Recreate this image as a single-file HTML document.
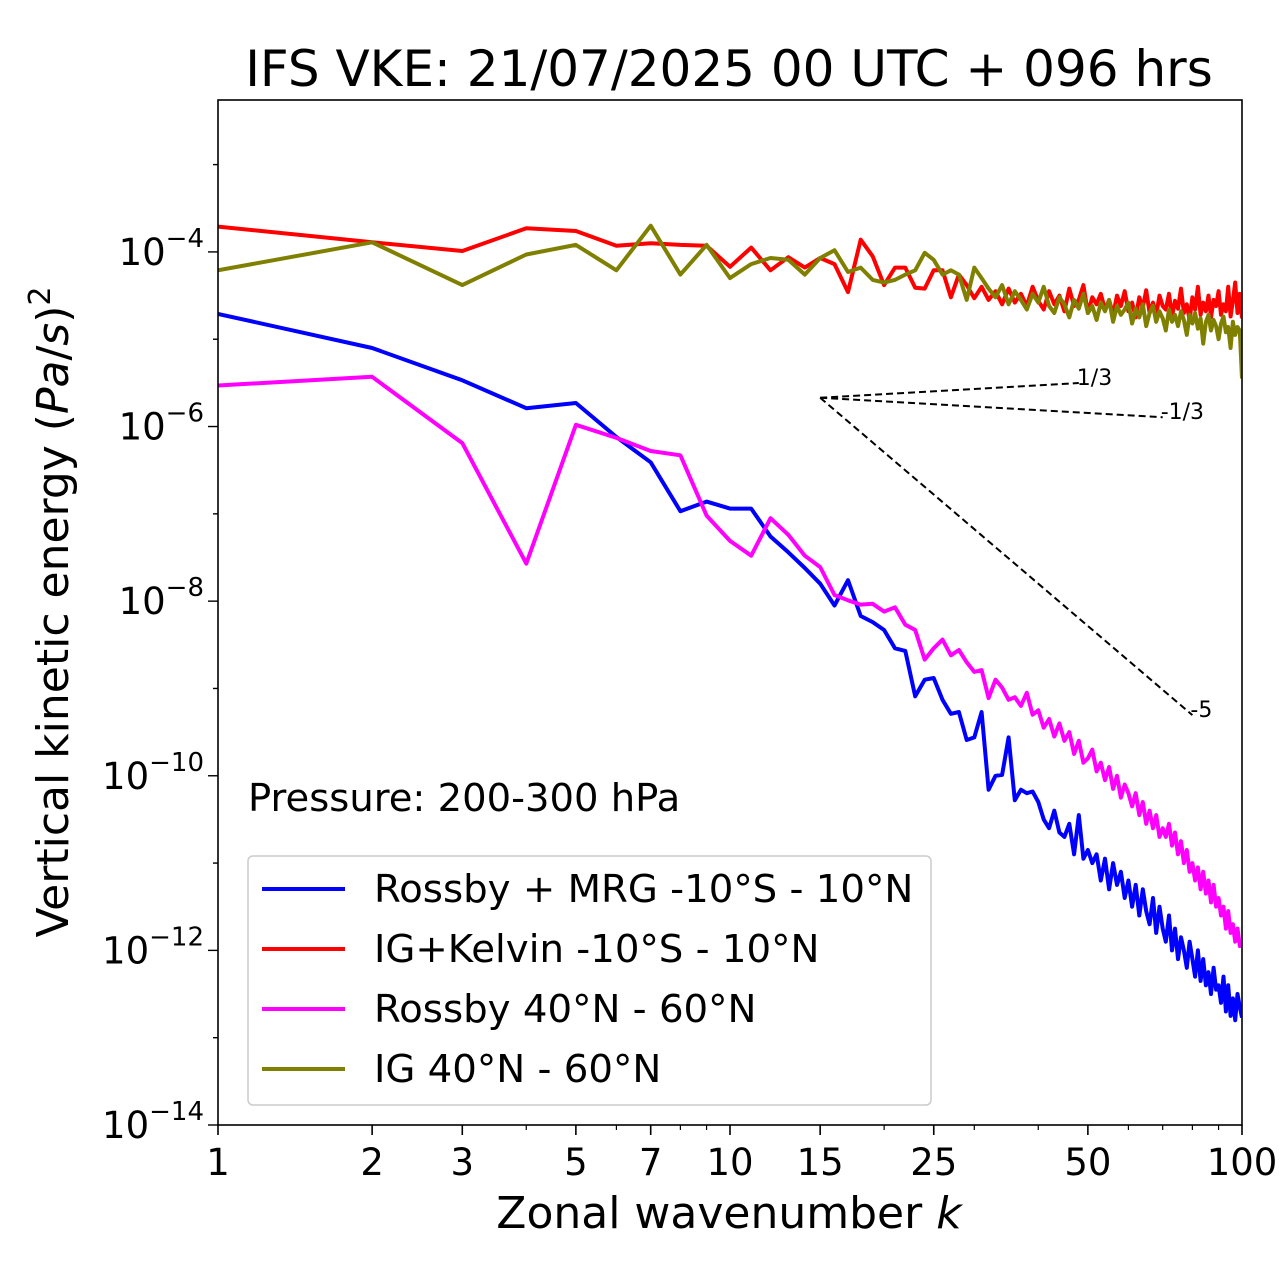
<!DOCTYPE html>
<html><head><meta charset="utf-8"><style>
body{margin:0;background:#fff;}
svg{display:block;font-family:"DejaVu Sans","Liberation Sans",sans-serif;}
</style></head><body>
<svg id="chart" width="1280" height="1288" viewBox="0 0 1280 1288" xmlns="http://www.w3.org/2000/svg">
<rect width="1280" height="1288" fill="#fff"/>
<text x="729" y="86" font-size="50" text-anchor="middle">IFS VKE: 21/07/2025 00 UTC + 096 hrs</text>
<defs><clipPath id="pc"><rect x="218" y="100" width="1024" height="1025"/></clipPath></defs>
<g id="series" clip-path="url(#pc)"></g>
<g id="guides"></g>
<g id="ticks"></g>
<rect x="218" y="100" width="1024" height="1025" fill="none" stroke="#000" stroke-width="1.6"/>
<text x="248" y="811" font-size="38.5">Pressure: 200-300 hPa</text>
<g>
<rect x="248" y="856" width="683" height="249" rx="5" fill="#fff" fill-opacity="0.8" stroke="#ccc" stroke-width="1.5"/>
<line x1="262" y1="889" x2="345" y2="889" stroke="#0000ff" stroke-width="4"/>
<text x="374" y="902" font-size="38.7">Rossby + MRG -10°S - 10°N</text>
<line x1="262" y1="949" x2="345" y2="949" stroke="#ff0000" stroke-width="4"/>
<text x="374" y="962" font-size="38.7">IG+Kelvin -10°S - 10°N</text>
<line x1="262" y1="1009" x2="345" y2="1009" stroke="#ff00ff" stroke-width="4"/>
<text x="374" y="1022" font-size="38.7">Rossby 40°N - 60°N</text>
<line x1="262" y1="1069" x2="345" y2="1069" stroke="#808000" stroke-width="4"/>
<text x="374" y="1082" font-size="38.7">IG 40°N - 60°N</text>
</g>
<text x="729" y="1228" font-size="44" text-anchor="middle">Zonal wavenumber <tspan font-style="italic">k</tspan></text>
<text transform="translate(68,612) rotate(-90)" font-size="44" text-anchor="middle">Vertical kinetic energy (<tspan font-style="italic">Pa</tspan>/<tspan font-style="italic">s</tspan>)<tspan font-size="30" dy="-18">2</tspan></text>
</svg>
<script>
// log10 of VKE for k = 1..100
const blueLog = [-4.71,-5.10,-5.47,-5.79,-5.73,-6.12,-6.41,-6.97,-6.86,-6.94,-6.94,-7.26,-7.44,-7.62,-7.80,-8.05,-7.76,-8.17,-8.24,-8.33,-8.54,-8.57,-9.09,-8.90,-8.88,-9.13,-9.29,-9.27,-9.59,-9.56,-9.27,-10.16,-10.0,-9.99,-9.56,
-10.28,-10.16,-10.2,-10.18,-10.3,-10.5,-10.6,-10.4,-10.65,-10.7,-10.55,-10.9,-10.45,-10.95,-10.85,-11.0,-10.9,-11.2,-10.95,-11.3,-11.0,-11.25,-11.1,-11.4,-11.2,-11.5,-11.25,-11.6,-11.3,-11.55,-11.7,-11.4,-11.8,-11.5,-11.75,-11.9,-11.6,-12.0,-11.75,-12.1,-11.85,-12.0,-12.2,-11.9,-12.1,-12.3,-12.0,-12.35,-12.1,-12.4,-12.25,-12.5,-12.2,-12.45,-12.4,-12.6,-12.3,-12.7,-12.4,-12.75,-12.55,-12.8,-12.5,-12.65,-12.77];
const magentaLog = [-5.53,-5.43,-6.19,-7.57,-5.98,-6.13,-6.28,-6.33,-7.02,-7.31,-7.48,-7.05,-7.24,-7.48,-7.61,-7.93,-7.99,-8.04,-8.03,-8.12,-8.07,-8.27,-8.33,-8.67,-8.54,-8.44,-8.62,-8.56,-8.70,-8.81,-8.79,-9.11,-8.90,-8.99,-9.13,
-9.1,-9.2,-9.05,-9.3,-9.25,-9.45,-9.35,-9.55,-9.4,-9.6,-9.5,-9.75,-9.6,-9.85,-9.8,-9.7,-9.95,-9.85,-10.05,-9.9,-10.15,-10.0,-10.25,-10.1,-10.2,-10.35,-10.2,-10.45,-10.3,-10.55,-10.4,-10.6,-10.45,-10.7,-10.6,-10.7,-10.55,-10.8,-10.65,-10.9,-10.75,-11.0,-10.85,-11.1,-11.0,-11.2,-11.05,-11.3,-11.1,-11.35,-11.2,-11.45,-11.25,-11.5,-11.4,-11.6,-11.5,-11.75,-11.55,-11.8,-11.7,-11.9,-11.75,-11.95,-11.94];
const redLog = [-3.71,-3.89,-3.99,-3.73,-3.76,-3.93,-3.90,-3.92,-3.93,-4.17,-3.95,-4.21,-4.06,-4.18,-4.07,-4.14,-4.46,-3.86,-4.05,-4.38,-4.18,-4.18,-4.41,-4.42,-4.21,-4.21,-4.52,-4.26,-4.38,-4.53,
-4.40,-4.55,-4.45,-4.60,-4.42,-4.58,-4.48,-4.62,-4.40,-4.56,-4.66,-4.45,-4.60,-4.50,-4.68,-4.42,-4.62,-4.55,-4.38,-4.70,-4.52,-4.60,-4.48,-4.66,-4.55,-4.72,-4.50,-4.62,-4.45,-4.68,-4.58,-4.75,-4.52,-4.64,-4.44,-4.70,-4.58,-4.72,-4.50,-4.62,-4.66,-4.48,-4.74,-4.56,-4.65,-4.42,-4.70,-4.60,-4.78,-4.52,-4.66,-4.40,-4.72,-4.58,-4.68,-4.50,-4.75,-4.55,-4.62,-4.45,-4.72,-4.60,-4.68,-4.40,-4.74,-4.56,-4.35,-4.70,-4.48,-4.76];
const oliveLog = [-4.21,-3.89,-4.38,-4.03,-3.92,-4.21,-3.70,-4.26,-3.92,-4.30,-4.14,-4.07,-4.09,-4.26,-4.07,-3.98,-4.23,-4.18,-4.32,-4.35,-4.32,-4.26,-4.21,-4.01,-4.09,-4.26,-4.21,-4.26,-4.55,-4.18,
-4.30,-4.42,-4.52,-4.38,-4.60,-4.45,-4.55,-4.66,-4.48,-4.58,-4.40,-4.62,-4.70,-4.52,-4.60,-4.75,-4.55,-4.65,-4.48,-4.70,-4.62,-4.78,-4.58,-4.68,-4.55,-4.80,-4.62,-4.72,-4.66,-4.58,-4.82,-4.65,-4.75,-4.60,-4.85,-4.70,-4.62,-4.80,-4.68,-4.76,-4.90,-4.66,-4.80,-4.72,-4.85,-4.68,-4.78,-4.95,-4.72,-4.82,-4.70,-4.88,-4.76,-5.05,-4.80,-4.72,-4.90,-4.78,-4.85,-5.00,-4.82,-4.74,-4.92,-4.86,-5.10,-4.80,-4.95,-4.86,-4.90,-5.45];
const xTickLabels = [1,2,3,5,7,10,15,25,50,100];
const xMinorTicks = [4,6,8,9,20,30,40,60,70,80,90];
const yTickExps = [-4,-6,-8,-10,-12,-14];
const slopeOrigin = [15,-5.67];
const slopes = [1/3,-1/3,-5];
const slopeEnds = [48,70,80];
const slopeLabels = ["1/3","-1/3","-5"];

const NS="http://www.w3.org/2000/svg";
const X0=218,X1=1242,Y0=100,Y1=1125;
const xs=k=>X0+(X1-X0)*Math.log10(k)/2;
const ys=e=>Y1-(Y1-Y0)*(e+14)/(11.74);
function mk(tag,attrs,parent){const el=document.createElementNS(NS,tag);for(const a in attrs)el.setAttribute(a,attrs[a]);parent.appendChild(el);return el;}
const gS=document.getElementById('series'),gT=document.getElementById('ticks'),gG=document.getElementById('guides');
const series=[[blueLog,'#0000ff','series-rossby-mrg'],[redLog,'#ff0000','series-ig-kelvin'],[magentaLog,'#ff00ff','series-rossby-midlat'],[oliveLog,'#808000','series-ig-midlat']];
series.forEach(s=>{
  const d=s[0].map((v,i)=>(i?'L':'M')+xs(i+1).toFixed(1)+','+ys(v).toFixed(1)).join('');
  const p=mk('path',{d:d,fill:'none',stroke:s[1],'stroke-width':4,'stroke-linejoin':'round'},gS);
  
  
});
slopes.forEach((s,i)=>{
  const k2=slopeEnds[i],e2=slopeOrigin[1]+s*Math.log10(k2/slopeOrigin[0]);
  const l=mk('line',{x1:xs(slopeOrigin[0]),y1:ys(slopeOrigin[1]),x2:xs(k2),y2:ys(e2),stroke:'#000','stroke-width':2,'stroke-dasharray':'7,4'},gG);
  
  
  const t=mk('text',{x:xs(k2)-2,y:ys(e2)+2,'font-size':22},gG);
  t.textContent=slopeLabels[i];
  
  
});
xTickLabels.forEach(k=>{
  mk('line',{x1:xs(k),y1:Y1,x2:xs(k),y2:Y1+10,stroke:'#000','stroke-width':1.6},gT);
  const t=mk('text',{x:xs(k),y:Y1+50,'font-size':37,'text-anchor':'middle'},gT);
  t.textContent=k;
  
  
});
xMinorTicks.forEach(k=>{mk('line',{x1:xs(k),y1:Y1,x2:xs(k),y2:Y1+5,stroke:'#000','stroke-width':1.2},gT);});
for(let e=-14;e<=-3;e++){mk('line',{x1:X0,y1:ys(e),x2:X0-(e%2===0?10:5),y2:ys(e),stroke:'#000','stroke-width':1.4},gT);}
yTickExps.forEach(e=>{
  const t=mk('text',{x:X0-14,y:ys(e)+13,'font-size':37,'text-anchor':'end'},gT);
  
  
  t.innerHTML='10<tspan font-size="26" dy="-18">'+(e<0?'\u2212':'')+Math.abs(e)+'</tspan>';
});
</script>
</body></html>
